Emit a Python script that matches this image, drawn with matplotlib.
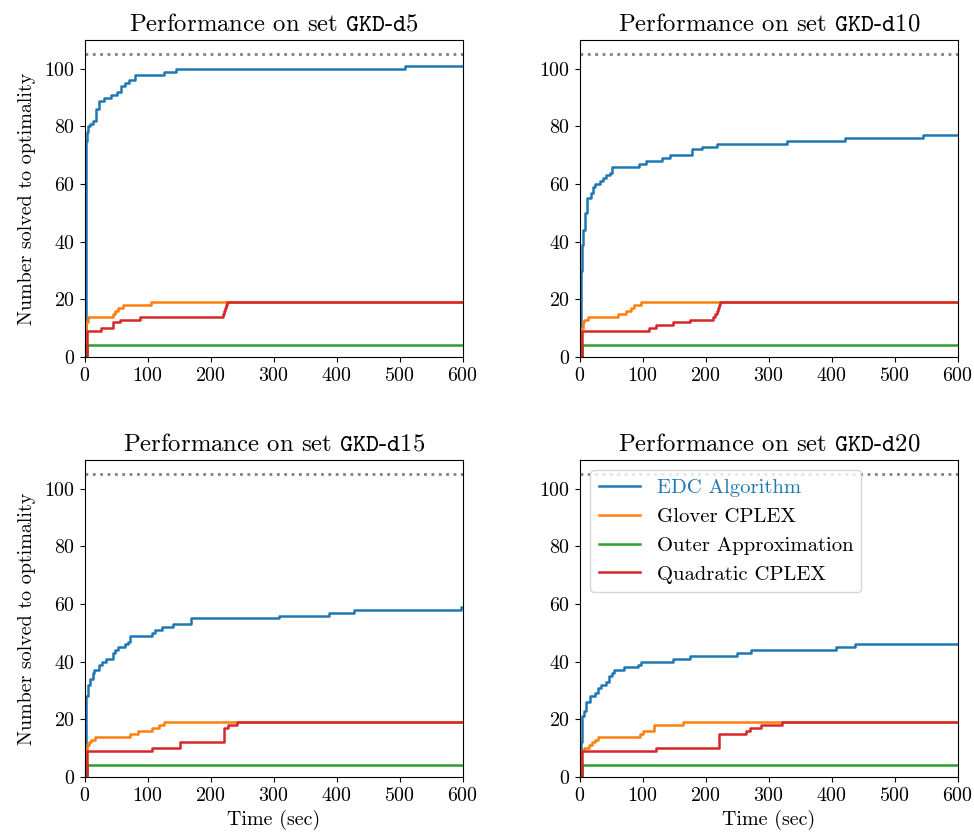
import matplotlib
matplotlib.use("Agg")
import matplotlib.pyplot as plt

plt.rcParams['font.family'] = 'serif'
plt.rcParams['font.serif'] = ['cmr10']
plt.rcParams['mathtext.fontset'] = 'cm'
plt.rcParams['axes.formatter.use_mathtext'] = True

sets = ["d5", "d10", "d15", "d20"]
methods = ["EDC Algorithm", "Glover CPLEX", "Outer Approximation", "Quadratic CPLEX"]
colors = ["#1f77b4", "#ff7f0e", "#2ca02c", "#d62728"]
total_instances = 105

# --- GKD-d5 ---
d5_edc_t = [0, 1, 2, 3, 5, 8, 12, 18, 22, 30, 42, 50, 57, 63, 70, 80, 125, 145, 508, 600]
d5_edc_n = [0, 60, 75, 78, 80, 81, 82, 86, 89, 90, 91, 92, 94, 95, 96, 98, 99, 100, 101, 101]
d5_glo_t = [0, 1, 5, 44, 48, 52, 60, 104, 600]
d5_glo_n = [0, 12, 14, 15, 16, 17, 18, 19, 19]
d5_oa_t = [0, 3, 600]
d5_oa_n = [0, 4, 4]
d5_qua_t = [0, 3, 25, 45, 55, 87, 219, 221, 222, 223, 225, 600]
d5_qua_n = [0, 9, 10, 12, 13, 14, 15, 16, 17, 18, 19, 19]

# --- GKD-d10 ---
d10_edc_t = [0, 1, 2, 3, 5, 8, 11, 17, 20, 23, 31, 36, 41, 47, 50, 94, 105, 130, 143, 177, 193, 218, 328, 420, 545, 600]
d10_edc_n = [0, 20, 30, 39, 44, 50, 55, 57, 59, 60, 61, 62, 63, 64, 66, 67, 68, 69, 70, 72, 73, 74, 75, 76, 77, 77]
d10_glo_t = [0, 1, 2, 4, 7, 12, 60, 73, 81, 85, 97, 600]
d10_glo_n = [0, 9, 10, 12, 13, 14, 15, 16, 17, 18, 19, 19]
d10_oa_t = [0, 3, 600]
d10_oa_n = [0, 4, 4]
d10_qua_t = [0, 3, 109, 121, 148, 174, 211, 215, 217, 219, 220, 222, 600]
d10_qua_n = [0, 9, 10, 11, 12, 13, 14, 15, 16, 17, 18, 19, 19]

# --- GKD-d15 ---
d15_edc_t = [0, 1, 2, 4, 8, 12, 15, 22, 27, 33, 44, 47, 52, 63, 68, 71, 107, 111, 122, 140, 168, 308, 388, 427, 596, 600]
d15_edc_n = [0, 20, 28, 32, 34, 36, 37, 39, 40, 41, 43, 44, 45, 46, 47, 49, 50, 51, 52, 53, 55, 56, 57, 58, 59, 59]
d15_glo_t = [0, 1, 3, 7, 10, 16, 71, 84, 107, 118, 125, 600]
d15_glo_n = [0, 9, 11, 12, 13, 14, 15, 16, 17, 18, 19, 19]
d15_oa_t = [0, 3, 600]
d15_oa_n = [0, 4, 4]
d15_qua_t = [0, 3, 107, 151, 220, 227, 241, 600]
d15_qua_n = [0, 9, 10, 12, 17, 18, 19, 19]

# --- GKD-d20 ---
d20_edc_t = [0, 1, 3, 6, 9, 16, 23, 29, 33, 41, 46, 50, 54, 70, 92, 97, 148, 174, 249, 272, 407, 437, 600]
d20_edc_n = [0, 12, 21, 23, 26, 28, 29, 31, 32, 33, 35, 36, 37, 38, 39, 40, 41, 42, 43, 44, 45, 46, 46]
d20_glo_t = [0, 2, 7, 15, 19, 23, 29, 96, 100, 118, 163, 600]
d20_glo_n = [0, 9, 10, 11, 12, 13, 14, 15, 16, 18, 19, 19]
d20_oa_t = [0, 3, 600]
d20_oa_n = [0, 4, 4]
d20_qua_t = [0, 3, 121, 220, 264, 270, 288, 321, 600]
d20_qua_n = [0, 9, 10, 15, 16, 17, 18, 19, 19]

data = {
    "d5": [(d5_edc_t, d5_edc_n), (d5_glo_t, d5_glo_n), (d5_oa_t, d5_oa_n), (d5_qua_t, d5_qua_n)],
    "d10": [(d10_edc_t, d10_edc_n), (d10_glo_t, d10_glo_n), (d10_oa_t, d10_oa_n), (d10_qua_t, d10_qua_n)],
    "d15": [(d15_edc_t, d15_edc_n), (d15_glo_t, d15_glo_n), (d15_oa_t, d15_oa_n), (d15_qua_t, d15_qua_n)],
    "d20": [(d20_edc_t, d20_edc_n), (d20_glo_t, d20_glo_n), (d20_oa_t, d20_oa_n), (d20_qua_t, d20_qua_n)],
}

fig = plt.figure(figsize=(9.74, 8.4), dpi=100)
positions = [
    [0.0873, 0.575, 0.3881, 0.3774],
    [0.5955, 0.575, 0.3881, 0.3774],
    [0.0873, 0.075, 0.3881, 0.3774],
    [0.5955, 0.075, 0.3881, 0.3774],
]

for i, s in enumerate(sets):
    ax = fig.add_axes(positions[i])
    ax.axhline(total_instances, color="gray", linestyle=":", linewidth=2)
    for (t, n), m, c in zip(data[s], methods, colors):
        ax.step(t, n, where="post", color=c, linewidth=1.8, label=m)
    ax.set_xlim(0, 600)
    ax.set_ylim(0, 110)
    ax.set_xticks([0, 100, 200, 300, 400, 500, 600])
    ax.set_yticks([0, 20, 40, 60, 80, 100])
    ax.tick_params(labelsize=14.4)
    ax.set_title(r"Performance on set $\mathtt{GKD}$-$\mathtt{%s}$" % s, fontsize=17.8, pad=7)
    if i % 2 == 0:
        ax.set_ylabel("Number solved to optimality", fontsize=14.4, labelpad=6)
    if i >= 2:
        ax.set_xlabel("Time (sec)", fontsize=14.4, labelpad=4)
    if i == 3:
        leg = ax.legend(loc="upper left", fontsize=14.9, handlelength=2.0)
        leg.get_texts()[0].set_color(colors[0])

fig.savefig("out.png", dpi=100)
